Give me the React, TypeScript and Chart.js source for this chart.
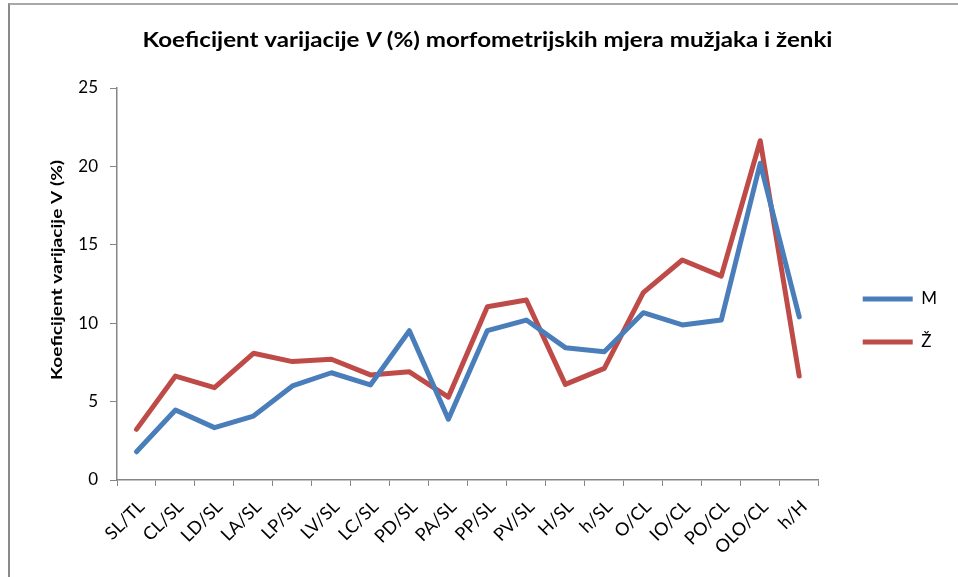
import React, { useEffect, useRef } from "react";
import { Chart, registerables } from "chart.js";

Chart.register(...registerables);

const categories = ["SL/TL", "CL/SL", "LD/SL", "LA/SL", "LP/SL", "LV/SL", "LC/SL", "PD/SL", "PA/SL", "PP/SL", "PV/SL", "H/SL", "h/SL", "O/CL", "IO/CL", "PO/CL", "OLO/CL", "h/H"];
const maleValues = [1.8, 4.46, 3.34, 4.08, 6.0, 6.84, 6.06, 9.52, 3.88, 9.53, 10.2, 8.44, 8.18, 10.67, 9.89, 10.2, 20.2, 10.4];
const femaleValues = [3.23, 6.63, 5.89, 8.08, 7.55, 7.7, 6.7, 6.9, 5.29, 11.05, 11.48, 6.1, 7.12, 11.95, 14.03, 13.0, 21.64, 6.63];
const seriesNames = ["M", "Ž"];
const yTicks = { min: 0, max: 25, step: 5 };
const titleParts = [
  { text: "Koeficijent varijacije ", italic: false },
  { text: "V", italic: true },
  { text: " (%) morfometrijskih mjera mužjaka i ženki", italic: false },
];
const yTitle = "Koeficijent varijacije V (%)";

const FONT = "Lato, 'Open Sans', sans-serif";

type Part = { text: string; italic: boolean };

function drawFitted(ctx: CanvasRenderingContext2D, parts: Part[], cx: number, cy: number, target: number, size: number, rot: number) {
  const fontOf = (p: Part) => `${p.italic ? "italic " : ""}bold ${size}px ${FONT}`;
  const widths = parts.map((p) => {
    ctx.font = fontOf(p);
    return ctx.measureText(p.text).width;
  });
  const total = widths.reduce((a, b) => a + b, 0);
  const sx = target / total;
  ctx.save();
  ctx.translate(cx, cy);
  ctx.rotate(rot);
  ctx.scale(sx, 1);
  ctx.fillStyle = "#000";
  ctx.textBaseline = "alphabetic";
  ctx.textAlign = "left";
  let x = -total / 2;
  parts.forEach((p, i) => {
    ctx.font = fontOf(p);
    ctx.fillText(p.text, x, 0);
    x += widths[i];
  });
  ctx.restore();
}

const titlesPlugin = {
  id: "customTitles",
  afterLayout(chart: any) {
    const lg = chart.legend;
    if (lg) {
      const dx = chart.chartArea.right + 18 - lg.left;
      lg.left += dx;
      lg.right += dx;
      const dy = -12;
      lg.top += dy;
      lg.bottom += dy;
    }
  },
  afterDraw(chart: any) {
    const ctx = chart.ctx as CanvasRenderingContext2D;
    drawFitted(ctx, titleParts, 487.5, 47, 690, 20.5, 0);
    drawFitted(ctx, [{ text: yTitle, italic: false }], 62, 270, 220, 15, -Math.PI / 2);
  },
};

export default function App() {
  const ref = useRef<HTMLCanvasElement | null>(null);

  useEffect(() => {
    if (!ref.current) return;
    const chart = new Chart(ref.current, {
      type: "line",
      data: {
        labels: categories,
        datasets: [
          {
            label: seriesNames[0],
            data: maleValues,
            borderColor: "#4A7EBB",
            backgroundColor: "#4A7EBB",
            borderWidth: 5,
            pointRadius: 0,
            tension: 0,
            borderCapStyle: "round",
            borderJoinStyle: "round",
          },
          {
            label: seriesNames[1],
            data: femaleValues,
            borderColor: "#BE4B48",
            backgroundColor: "#BE4B48",
            borderWidth: 5,
            pointRadius: 0,
            tension: 0,
            borderCapStyle: "round",
            borderJoinStyle: "round",
          },
        ],
      },
      options: {
        responsive: false,
        animation: false,
        layout: { padding: { top: 88, left: 0, right: 29, bottom: 0 } },
        plugins: {
          title: { display: false },
          tooltip: { enabled: false },
          legend: {
            display: true,
            position: "right",
            labels: {
              usePointStyle: true,
              pointStyle: "line",
              pointStyleWidth: 50,
              padding: 26,
              color: "#000",
              font: { family: FONT, size: 17 },
            },
          },
        },
        scales: {
          x: {
            offset: true,
            grid: { display: true, offset: true, drawOnChartArea: false, drawTicks: true, tickLength: 6, color: "#868686" },
            border: { display: true, color: "#868686", width: 1.5 },
            ticks: { color: "#000", font: { family: FONT, size: 18 }, minRotation: 45, maxRotation: 45, autoSkip: false, padding: 10, labelOffset: 5 },
            afterFit: (s: any) => {
              s.height = 97;
            },
          },
          y: {
            min: yTicks.min,
            max: yTicks.max,
            grid: { display: true, drawOnChartArea: false, drawTicks: true, tickLength: 7, color: "#868686" },
            border: { display: true, color: "#868686", width: 1.5 },
            ticks: { stepSize: yTicks.step, color: "#000", font: { family: FONT, size: 17 }, padding: 12 },
            afterFit: (s: any) => {
              s.width = 117;
            },
          },
        },
      },
      plugins: [titlesPlugin],
    });
    return () => chart.destroy();
  }, []);

  return (
    <div style={{ position: "absolute", left: 0, top: 0, width: 958, height: 577, background: "#fff" }}>
      <div
        style={{
          position: "absolute",
          left: 8,
          top: 3,
          width: 950,
          height: 574,
          boxSizing: "border-box",
          borderLeft: "2px solid #8a8a8a",
          borderTop: "2px solid #a8a8a8",
        }}
      />
      <canvas ref={ref} width={958} height={577} style={{ position: "absolute", left: 0, top: 0 }} />
    </div>
  );
}
